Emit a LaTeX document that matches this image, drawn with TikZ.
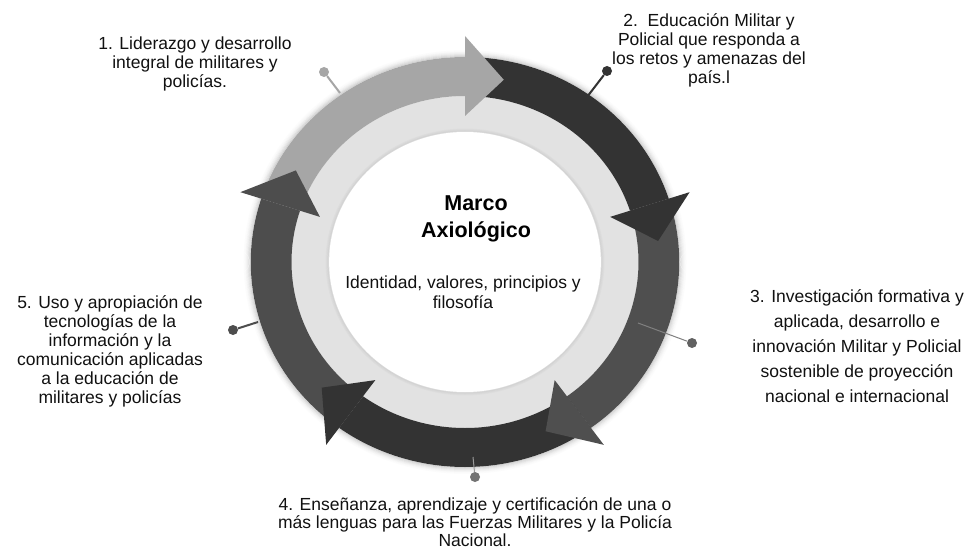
\documentclass[tikz,border=0pt]{standalone}
\usepackage{fontspec}
\setmainfont{Liberation Sans}
\definecolor{cone}{HTML}{A6A6A6}
\definecolor{ctwo}{HTML}{333333}
\definecolor{cthree}{HTML}{4F4F4F}
\definecolor{cfour}{HTML}{333333}
\definecolor{cfive}{HTML}{4D4D4D}
\definecolor{disk}{HTML}{E2E2E2}
\definecolor{txt}{HTML}{111111}
\begin{document}
\begin{tikzpicture}[x=1pt,y=1pt,
  lbl/.style={align=center, inner sep=0pt, text=txt, font=\fontsize{17.5}{19}\selectfont},
  pindot/.style={circle, inner sep=0pt, minimum size=10pt, fill=#1},
  pinline/.style={draw=#1, line width=2pt}]
\useasboundingbox (0,0) rectangle (968,550);
\fill[white] (0,0) rectangle (968,550);
\begin{scope}[shift={(465,288)}, xscale=1.045]
  \fill[disk] (0,0) circle[radius=166];
  \fill[white] (0,0) circle[radius=130];
  \foreach \r/\o in {205.5/0.16, 206.5/0.12, 207.5/0.09, 208.5/0.06, 209.5/0.04, 210.5/0.02, 211.5/0.01}
    \draw[black, opacity=\o, line width=1pt] (0,0) circle[radius=\r];
  \foreach \r/\o in {131/0.06, 132/0.04, 133/0.02}
    \draw[black, opacity=\o, line width=1pt] (0,0) circle[radius=\r];
  \foreach \s/\b/\c in {162/90/cone, 90/18/ctwo, 18/-54/cthree, -54/-126/cfour, -126/-198/cfive}
    \fill[\c] (\s:205) arc[start angle=\s, end angle=\b, radius=205] -- (\b:166)
      arc[start angle=\b, end angle=\s, radius=166] -- cycle;
  \foreach \b/\c in {90/cone, 18/ctwo, -54/cthree, -126/cfour, 162/cfive}
    \fill[\c] (\b:226) -- ({\b-11.5}:186) -- (\b:146) -- cycle;
\end{scope}
% pins
\coordinate (e1) at (340,457);
\coordinate (e2) at (587,453);
\coordinate (e3) at (638,227);
\coordinate (e4) at (473,93);
\coordinate (e5) at (258,228);
\node[pindot=cone] (p1) at (324,478) {};
\node[pindot=ctwo] (p2) at (607,479) {};
\node[pindot=cthree!90!white] (p3) at (692,207) {};
\node[pindot=gray!90!black] (p4) at (475,73) {};
\node[pindot=cfive] (p5) at (233,220) {};
\draw[pinline=cone] (e1) -- (p1);
\draw[pinline=ctwo] (e2) -- (p2);
\draw[draw=gray, line width=1pt] (e3) -- (p3);
\draw[draw=gray!80, line width=1pt] (e4) -- (p4);
\draw[pinline=cfive] (e5) -- (p5);
% labels
\node[lbl] (t1) at (195,486) {1. Liderazgo y desarrollo\\integral de militares y\\policías.};
\node[lbl] (t2) at (709,500) {2.\ \ Educación Militar y\\Policial que responda a\\los retos y amenazas del\\país.l};
\node[lbl, font=\fontsize{17.5}{25}\selectfont] (t3) at (857,204) {3. Investigación formativa y\\aplicada, desarrollo e\\innovación Militar y Policial\\sostenible de proyección\\nacional e internacional};
\node[lbl, font=\fontsize{17.5}{18}\selectfont] (t4) at (475,28) {4. Enseñanza, aprendizaje y certificación de una o\\más lenguas para las Fuerzas Militares y la Policía\\Nacional.};
\node[lbl] (t5) at (110,199) {5. Uso y apropiación de\\tecnologías de la\\información y la\\comunicación aplicadas\\a la educación de\\militares y policías};
\node[lbl, text=black, font=\fontsize{21.5}{27}\selectfont\bfseries] (title) at (476,331) {Marco\\Axiológico};
\node[lbl, font=\fontsize{17.5}{20}\selectfont] (sub) at (463,258) {Identidad, valores, principios y\\filosofía};
\end{tikzpicture}
\end{document}
